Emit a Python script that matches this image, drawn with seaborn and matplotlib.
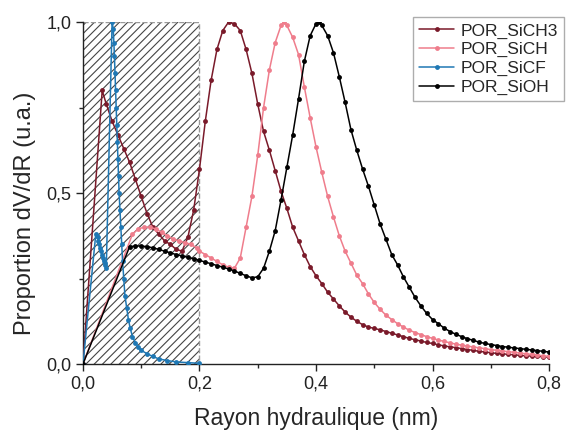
import matplotlib
matplotlib.use('Agg')
import matplotlib.pyplot as plt
import seaborn as sns
from matplotlib.patches import Rectangle
from matplotlib.ticker import MultipleLocator, FuncFormatter

# ---- data ----
x_sich3 = [0.0, 0.033, 0.04, 0.05, 0.06, 0.07, 0.08, 0.09, 0.10, 0.11, 0.12, 0.13, 0.14,
           0.15, 0.16, 0.17, 0.18, 0.19, 0.20, 0.21, 0.22, 0.23, 0.24, 0.25, 0.26, 0.27,
           0.28, 0.29, 0.30, 0.31, 0.32, 0.33, 0.34, 0.35, 0.36, 0.37, 0.38, 0.39, 0.40,
           0.41, 0.42, 0.43, 0.44, 0.45, 0.46, 0.47, 0.48, 0.49, 0.50, 0.51, 0.52, 0.53,
           0.54, 0.55, 0.56, 0.57, 0.58, 0.59, 0.60, 0.61, 0.62, 0.63, 0.64, 0.65, 0.66,
           0.67, 0.68, 0.69, 0.70, 0.71, 0.72, 0.73, 0.74, 0.75, 0.76, 0.77, 0.78, 0.79, 0.80]
y_sich3 = [0.0, 0.80, 0.76, 0.71, 0.67, 0.63, 0.59, 0.54, 0.49, 0.44, 0.40, 0.38, 0.36,
           0.35, 0.335, 0.33, 0.37, 0.45, 0.57, 0.71, 0.83, 0.92, 0.975, 1.0, 0.995, 0.975,
           0.92, 0.85, 0.76, 0.68, 0.625, 0.565, 0.505, 0.455, 0.40, 0.36, 0.32, 0.285, 0.258,
           0.235, 0.21, 0.19, 0.17, 0.152, 0.137, 0.125, 0.115, 0.108, 0.104, 0.10, 0.095, 0.09,
           0.085, 0.08, 0.075, 0.071, 0.067, 0.063, 0.06, 0.056, 0.053, 0.05, 0.048, 0.045, 0.042,
           0.04, 0.037, 0.035, 0.033, 0.031, 0.03, 0.028, 0.027, 0.025, 0.024, 0.023, 0.022, 0.021, 0.02]

x_sich = [0.0, 0.085, 0.095, 0.105, 0.115, 0.125, 0.135, 0.145, 0.155, 0.165, 0.175, 0.185,
          0.195, 0.20, 0.21, 0.22, 0.23, 0.24, 0.25, 0.26, 0.27, 0.28, 0.29, 0.30, 0.31,
          0.32, 0.33, 0.34, 0.345, 0.35, 0.36, 0.37, 0.38, 0.39, 0.40, 0.41, 0.42, 0.43,
          0.44, 0.45, 0.46, 0.47, 0.48, 0.49, 0.50, 0.51, 0.52, 0.53, 0.54, 0.55, 0.56,
          0.57, 0.58, 0.59, 0.60, 0.61, 0.62, 0.63, 0.64, 0.65, 0.66, 0.67, 0.68, 0.69,
          0.70, 0.71, 0.72, 0.73, 0.74, 0.75, 0.76, 0.77, 0.78, 0.79, 0.80]
y_sich = [0.0, 0.38, 0.395, 0.40, 0.40, 0.395, 0.385, 0.375, 0.365, 0.36, 0.355, 0.35,
          0.34, 0.33, 0.32, 0.31, 0.30, 0.29, 0.283, 0.28, 0.31, 0.40, 0.49, 0.61, 0.75,
          0.86, 0.94, 0.99, 1.0, 0.99, 0.955, 0.905, 0.81, 0.72, 0.635, 0.56, 0.49, 0.43,
          0.375, 0.33, 0.295, 0.26, 0.235, 0.205, 0.18, 0.16, 0.143, 0.13, 0.118, 0.108, 0.099,
          0.092, 0.086, 0.08, 0.075, 0.07, 0.066, 0.062, 0.058, 0.055, 0.052, 0.05, 0.047, 0.045,
          0.042, 0.04, 0.038, 0.036, 0.034, 0.032, 0.03, 0.028, 0.026, 0.024, 0.022]

x_sicf = [0.0, 0.022, 0.0235, 0.025, 0.0265, 0.028, 0.0295, 0.031, 0.0325, 0.034, 0.0355,
          0.037, 0.0385, 0.040, 0.050, 0.052, 0.053, 0.054, 0.055, 0.056, 0.057, 0.058,
          0.059, 0.060, 0.061, 0.062, 0.0635, 0.065, 0.0665, 0.068, 0.070, 0.072, 0.075,
          0.078, 0.081, 0.085, 0.090, 0.095, 0.10, 0.11, 0.12, 0.13, 0.145, 0.16, 0.18, 0.20]
y_sicf = [0.0, 0.38, 0.375, 0.37, 0.36, 0.35, 0.34, 0.33, 0.32, 0.31, 0.30,
          0.295, 0.29, 0.28, 1.0, 0.98, 0.94, 0.90, 0.85, 0.80, 0.75, 0.70,
          0.65, 0.60, 0.55, 0.50, 0.45, 0.40, 0.35, 0.30, 0.25, 0.20, 0.165,
          0.13, 0.105, 0.08, 0.062, 0.05, 0.04, 0.03, 0.022, 0.015, 0.01, 0.006, 0.004, 0.002]

x_sioh = [0.0, 0.08, 0.09, 0.10, 0.11, 0.12, 0.13, 0.14, 0.15, 0.16, 0.17, 0.18, 0.19,
          0.20, 0.21, 0.22, 0.23, 0.24, 0.25, 0.26, 0.27, 0.28, 0.29, 0.30, 0.31, 0.32,
          0.33, 0.34, 0.35, 0.36, 0.37, 0.38, 0.39, 0.40, 0.405, 0.41, 0.42, 0.43, 0.44,
          0.45, 0.46, 0.47, 0.48, 0.49, 0.50, 0.51, 0.52, 0.53, 0.54, 0.55, 0.56, 0.57,
          0.58, 0.59, 0.60, 0.61, 0.62, 0.63, 0.64, 0.65, 0.66, 0.67, 0.68, 0.69, 0.70,
          0.71, 0.72, 0.73, 0.74, 0.75, 0.76, 0.77, 0.78, 0.79, 0.80]
y_sioh = [0.0, 0.343, 0.345, 0.345, 0.343, 0.34, 0.335, 0.33, 0.325, 0.32, 0.316, 0.312, 0.308,
          0.303, 0.298, 0.293, 0.288, 0.283, 0.278, 0.272, 0.265, 0.258, 0.252, 0.255, 0.28, 0.33,
          0.39, 0.48, 0.575, 0.67, 0.775, 0.885, 0.96, 0.995, 1.0, 0.99, 0.96, 0.91, 0.84,
          0.765, 0.685, 0.625, 0.57, 0.52, 0.465, 0.41, 0.365, 0.32, 0.29, 0.255, 0.225, 0.195,
          0.17, 0.148, 0.13, 0.118, 0.105, 0.095, 0.087, 0.08, 0.074, 0.069, 0.064, 0.06, 0.057,
          0.054, 0.051, 0.049, 0.047, 0.045, 0.043, 0.041, 0.039, 0.037, 0.035]

series = [
    ('POR_SiCH3', x_sich3, y_sich3, '#7a1a2a'),
    ('POR_SiCH', x_sich, y_sich, '#ef7d8c'),
    ('POR_SiCF', x_sicf, y_sicf, '#1f78b4'),
    ('POR_SiOH', x_sioh, y_sioh, '#000000'),
]

sns.set_style('ticks')
plt.rcParams['font.family'] = ['Liberation Sans', 'DejaVu Sans']
plt.rcParams['hatch.linewidth'] = 0.8

fig = plt.figure(figsize=(5.66, 4.30), dpi=100)
ax = fig.add_axes([0.1466, 0.1535, 0.8234, 0.7953])

# hatched zone 0 - 0.2 nm
ax.add_patch(Rectangle((0, 0), 0.2, 1.0, fill=False, hatch='////',
                       edgecolor='#444444', lw=0, zorder=1))
ax.plot([0, 0.2, 0.2], [1.0, 1.0, 0], ls='--', color='#999999', lw=1.0, zorder=1)

for name, xs, ys, col in series:
    sns.lineplot(x=xs, y=ys, ax=ax, color=col, marker='o', markersize=3.5,
                 markeredgewidth=0, lw=1.1, sort=False, estimator=None,
                 label=name, zorder=3)

ax.set_xlim(0, 0.8)
ax.set_ylim(0, 1.0)
ax.xaxis.set_major_locator(MultipleLocator(0.2))
ax.xaxis.set_minor_locator(MultipleLocator(0.1))
ax.yaxis.set_major_locator(MultipleLocator(0.5))
ax.yaxis.set_minor_locator(MultipleLocator(0.25))
fmt = FuncFormatter(lambda v, p: f'{v:.1f}'.replace('.', ','))
ax.xaxis.set_major_formatter(fmt)
ax.yaxis.set_major_formatter(fmt)
ax.tick_params(which='major', direction='out', length=5, width=1, labelsize=13, colors='#222222')
ax.tick_params(which='minor', direction='out', length=3, width=1)
for s in ['left', 'bottom']:
    ax.spines[s].set_linewidth(1.0)
    ax.spines[s].set_color('#222222')
sns.despine(ax=ax)

ax.set_xlabel('Rayon hydraulique (nm)', fontsize=16.5, labelpad=10)
ax.set_ylabel('Proportion dV/dR (u.a.)', fontsize=17)
ax.yaxis.set_label_coords(-0.1, 0.44)

leg = ax.legend(loc='upper right', bbox_to_anchor=(1.0, 0.964),
                bbox_transform=fig.transFigure, fontsize=12.5, frameon=True,
                fancybox=False, edgecolor='#999999', handlelength=2.0,
                labelspacing=0.2, borderpad=0.35, handletextpad=0.4, borderaxespad=0.1)
leg.get_frame().set_linewidth(1.0)

fig.savefig('out.png', dpi=100)
